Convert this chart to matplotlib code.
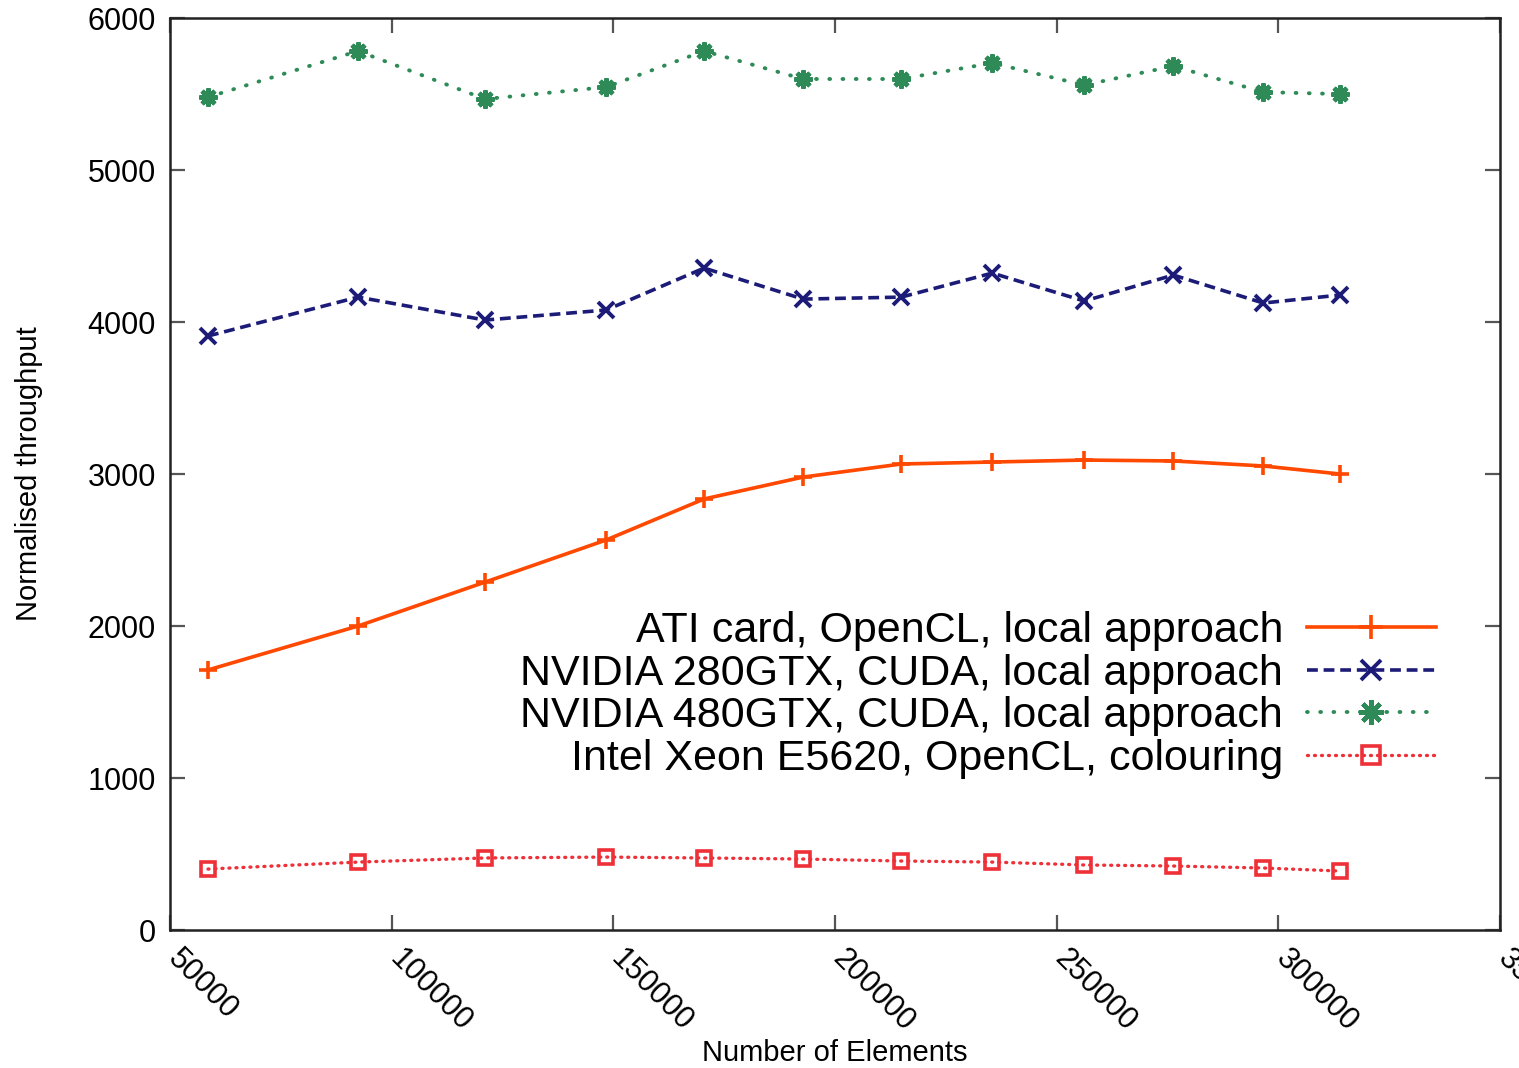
import matplotlib
matplotlib.use("Agg")
import matplotlib.pyplot as plt
from matplotlib.transforms import ScaledTranslation

plt.rcParams['font.family'] = ['Liberation Sans', 'DejaVu Sans']

# Mesh sizes (number of elements)
elements = [58574, 92419, 121074, 148375, 170487, 192825,
            214937, 235469, 256227, 276309, 296616, 313989]

ati_opencl = [1711, 2000, 2289, 2566, 2836, 2980,
              3066, 3079, 3092, 3086, 3053, 3000]
nv280_cuda = [3908, 4164, 4013, 4079, 4355, 4151,
              4164, 4322, 4138, 4309, 4125, 4178]
nv480_cuda = [5480, 5783, 5467, 5546, 5783, 5599,
              5599, 5704, 5559, 5684, 5513, 5500]
xeon_opencl = [401, 447, 474, 480, 474, 467,
               454, 447, 428, 421, 408, 388]

series_labels = ["ATI card, OpenCL, local approach",
                 "NVIDIA 280GTX, CUDA, local approach",
                 "NVIDIA 480GTX, CUDA, local approach",
                 "Intel Xeon E5620, OpenCL, colouring"]

x_ticks = [50000, 100000, 150000, 200000, 250000, 300000, 350000]
y_ticks = [0, 1000, 2000, 3000, 4000, 5000, 6000]

fig = plt.figure(figsize=(15.19, 10.68), dpi=100)
ax = fig.add_axes([0.1119, 0.1292, 0.8756, 0.8539])

ax.plot(elements, ati_opencl, color='#ff4800', linestyle='-', linewidth=2.6,
        marker='+', markersize=13, markeredgewidth=2.6,
        label=series_labels[0])
ax.plot(elements, nv280_cuda, color='#1c1c78', linestyle=(0, (3, 1.6)),
        linewidth=2.6, marker='x', markersize=11, markeredgewidth=2.8,
        label=series_labels[1])
ax.plot(elements, nv480_cuda, color='#2e8b57', linestyle=(0, (0.2, 3.2)),
        linewidth=2.8, marker=(8, 2, 0), markersize=13, markeredgewidth=3.2,
        dash_capstyle='round', label=series_labels[2])
ax.plot(elements, xeon_opencl, color='#ee3038', linestyle=(0, (0.3, 1.8)),
        linewidth=2.4, marker='s', markersize=10, markeredgewidth=2.6,
        markerfacecolor='none', dash_capstyle='round',
        label=series_labels[3])

ax.set_xlim(50000, 350000)
ax.set_ylim(0, 6000)
ax.set_xticks(x_ticks)
ax.set_yticks(y_ticks)
ax.set_xticklabels([str(v) for v in x_ticks], rotation=-45,
                   ha='left', va='top', rotation_mode='anchor', fontsize=22)
ax.set_yticklabels([str(v) for v in y_ticks], fontsize=22)

ax.tick_params(axis='both', which='both', direction='in', length=11,
               width=1.6, color='#555555', top=True, right=True, pad=10)
ax.tick_params(axis='x', pad=10)
shift = ScaledTranslation(0.13, 0, fig.dpi_scale_trans)
for lbl in ax.get_xticklabels():
    lbl.set_transform(lbl.get_transform() + shift)
for sp in ax.spines.values():
    sp.set_linewidth(1.8)
    sp.set_color('#222222')

ax.set_xlabel("Number of Elements", fontsize=21, va='center')
ax.xaxis.set_label_coords(0.5, -0.135)
ax.set_ylabel("Normalised throughput", fontsize=21, labelpad=32)

leg = ax.legend(loc='lower right', bbox_to_anchor=(0.968, 0.142),
                frameon=False, markerfirst=False, fontsize=31,
                handlelength=3.0, handletextpad=0.55, labelspacing=0.06,
                markerscale=1.35, borderpad=0)
for t in leg.get_texts():
    t.set_ha('right')
leg._legend_box.align = 'right'

fig.savefig("out.png", dpi=100)
